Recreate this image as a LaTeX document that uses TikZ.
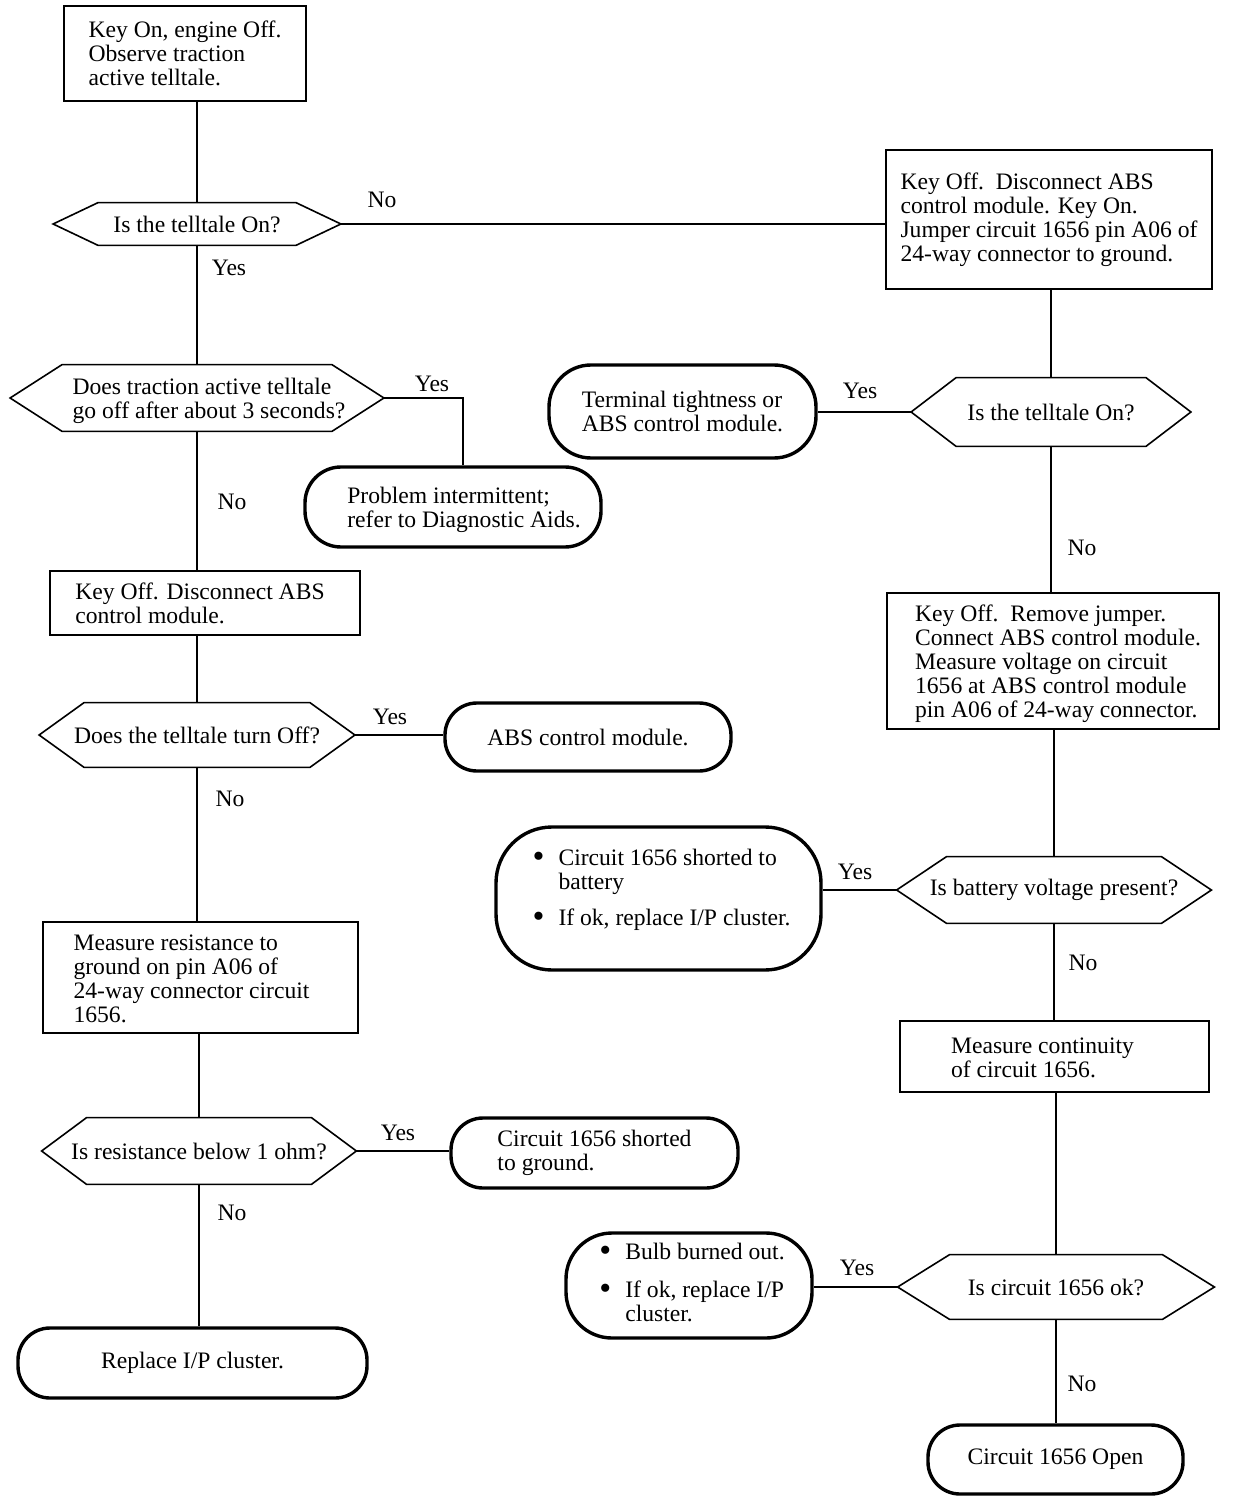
\documentclass[tikz,border=0pt]{standalone}
\usepackage{fontspec}
\setmainfont{Liberation Serif}
\usetikzlibrary{calc}
\newcommand{\hexshape}[2]{\draw[hexline] (#1.west) -- ($(#1.north west)+(#2,0)$) -- ($(#1.north east)+(-#2,0)$) -- (#1.east) -- ($(#1.south east)+(-#2,0)$) -- ($(#1.south west)+(#2,0)$) -- cycle;}
\newcommand{\bul}{\makebox[13pt][l]{\raisebox{-1.3pt}{\fontsize{17}{12}\selectfont\textbullet}}}
\newcommand{\blk}[3]{\begin{tabular}{@{\hspace{#1}}l@{\hspace{#2}}}#3\end{tabular}}
% move a block up / down inside its node by half of #1
\newcommand{\mvup}[2]{\raisebox{0pt}[\height][\dimexpr\depth+#1\relax]{#2}}
\newcommand{\mvdown}[2]{\raisebox{0pt}[\dimexpr\height+#1\relax][\depth]{#2}}
\begin{document}
\begin{tikzpicture}[x=0.5pt,y=-0.5pt,
  every node/.style={font=\fontsize{11.8}{12}\selectfont},
  box/.style={draw, line width=0.9pt, align=left, inner sep=0pt},
  term/.style={draw, line width=1.7pt, align=left, inner sep=0pt},
  dec/.style={align=center, inner sep=0pt},
  hexline/.style={line width=0.8pt, line join=miter},
  link/.style={line width=0.8pt},
  lbl/.style={inner sep=0pt}]
\path[use as bounding box, fill=white] (0,0) rectangle (1232,1502);

% ---------- left column ----------
\node[box, minimum width=121pt, minimum height=47.5pt] (start) at (185,53.5)
  {Key On, engine Off.\\Observe traction\\active telltale.};
\node[dec, minimum width=143.5pt, minimum height=21pt] (q1) at (197,224) {Is the telltale On?};
\node[dec, minimum width=186.5pt, minimum height=33pt] (q5) at (197,398)
  {\mvdown{4pt}{\blk{12pt}{0pt}{Does traction active telltale\\go off after about 3 seconds?}}};
\node[term, minimum width=148pt, minimum height=40pt, rounded corners=18pt] (t1) at (453,507)
  {\mvdown{4pt}{\blk{11pt}{0pt}{Problem intermittent;\\refer to Diagnostic Aids.}}};
\node[box, minimum width=155pt, minimum height=32pt] (l1) at (205,603)
  {\mvdown{4pt}{\blk{0pt}{5pt}{Key Off. Disconnect ABS\\control module.}}};
\node[dec, minimum width=157.5pt, minimum height=32pt] (q6) at (197,735) {Does the telltale turn Off?};
\node[term, minimum width=143pt, minimum height=34pt, rounded corners=16pt] (t3) at (588,737)
  {ABS control module.};
\node[box, minimum width=157.5pt, minimum height=55.5pt] (l2) at (200.5,977.5)
  {\mvdown{4pt}{\blk{0pt}{9pt}{Measure resistance to\\ground on pin A06 of\\24-way connector circuit\\1656.}}};
\node[dec, minimum width=157pt, minimum height=33pt] (q7) at (199,1151) {Is resistance below 1 ohm?};
\node[term, minimum width=143.5pt, minimum height=35pt, rounded corners=16pt] (t5) at (594.5,1153)
  {Circuit 1656 shorted\\to ground.};
\node[term, minimum width=174.5pt, minimum height=35pt, rounded corners=16pt] (t7) at (192.5,1363)
  {Replace I/P cluster.};

% ---------- right column ----------
\node[box, minimum width=163pt, minimum height=69.5pt] (r1) at (1049,219.5)
  {Key Off.\ \ Disconnect ABS\\control module. Key On.\\Jumper circuit 1656 pin A06 of\\24-way connector to ground.};
\node[dec, minimum width=139.5pt, minimum height=34pt] (q2) at (1051,412) {Is the telltale On?};
\node[term, minimum width=133.5pt, minimum height=46.5pt, rounded corners=21pt] (t2) at (682.5,411.5)
  {Terminal tightness or\\ABS control module.};
\node[box, minimum width=166pt, minimum height=68pt] (r2) at (1053,661)
  {\mvdown{4pt}{\blk{5pt}{0pt}{Key Off.\ \ Remove jumper.\\Connect ABS control module.\\Measure voltage on circuit\\1656 at ABS control module\\pin A06 of 24-way connector.}}};
\node[dec, minimum width=157pt, minimum height=33pt] (q3) at (1054,890) {Is battery voltage present?};
\node[term, minimum width=162.5pt, minimum height=71.5pt, rounded corners=28pt] (t4) at (658.5,898.5)
  {\mvup{8pt}{\blk{3pt}{0pt}{\bul Circuit 1656 shorted to\\\hspace*{13pt}battery\\[6pt]\bul If ok, replace I/P cluster.}}};
\node[box, minimum width=154.5pt, minimum height=35.5pt] (r3) at (1054.5,1056.5)
  {\mvdown{4pt}{\blk{0pt}{12pt}{Measure continuity\\of circuit 1656.}}};
\node[dec, minimum width=158pt, minimum height=32pt] (q4) at (1056,1287) {Is circuit 1656 ok?};
\node[term, minimum width=123pt, minimum height=52.5pt, rounded corners=23pt] (t6) at (689,1285.5)
  {\blk{3pt}{0pt}{\bul Bulb burned out.\\[7pt]\bul If ok, replace I/P\\\hspace*{13pt}cluster.}};
\node[term, minimum width=127.5pt, minimum height=34.5pt, rounded corners=16pt] (t8) at (1055.5,1459.5)
  {Circuit 1656 Open};

% ---------- decision outlines ----------
\hexshape{q1}{45}
\hexshape{q5}{52}
\hexshape{q6}{45}
\hexshape{q7}{45}
\hexshape{q2}{45}
\hexshape{q3}{50}
\hexshape{q4}{52}

% ---------- connectors ----------
\draw[link] (q1.north) -- (q1.north |- start.south);
\draw[link] (q1.east) -- (q1.east -| r1.west);
\draw[link] (q1.south) -- (q1.south |- q5.north);
\draw[link] (q5.east) -| ($(t1.north)+(10,0)$);
\draw[link] (q5.south) -- (q5.south |- l1.north);
\draw[link] (q6.north) -- (q6.north |- l1.south);
\draw[link] (q6.east) -- (q6.east -| t3.west);
\draw[link] (q6.south) -- (q6.south |- l2.north);
\draw[link] (q7.north) -- (q7.north |- l2.south);
\draw[link] (q7.east) -- (q7.east -| t5.west);
\draw[link] (q7.south) -- (q7.south |- t7.north);

\draw[link] (q2.north) -- (q2.north |- r1.south);
\draw[link] (q2.west) -- (q2.west -| t2.east);
\draw[link] (q2.south) -- (q2.south |- r2.north);
\draw[link] (q3.north) -- (q3.north |- r2.south);
\draw[link] (q3.west) -- (q3.west -| t4.east);
\draw[link] (q3.south) -- (q3.south |- r3.north);
\draw[link] (q4.north) -- (q4.north |- r3.south);
\draw[link] (q4.west) -- (q4.west -| t6.east);
\draw[link] (q4.south) -- (q4.south |- t8.north);

% ---------- labels ----------
\node[lbl] (a1) at (382,200) {No};
\node[lbl] (a2) at (229,268) {Yes};
\node[lbl] (a3) at (432,384) {Yes};
\node[lbl] (a4) at (232,502) {No};
\node[lbl] (a5) at (390,717) {Yes};
\node[lbl] (a6) at (230,799) {No};
\node[lbl] (a7) at (398,1133) {Yes};
\node[lbl] (a8) at (232,1213) {No};
\node[lbl] (b1) at (860,391) {Yes};
\node[lbl] (b2) at (1082,548) {No};
\node[lbl] (b3) at (855,872) {Yes};
\node[lbl] (b4) at (1083,963) {No};
\node[lbl] (b5) at (857,1268) {Yes};
\node[lbl] (b6) at (1082,1384) {No};
\end{tikzpicture}
\end{document}
